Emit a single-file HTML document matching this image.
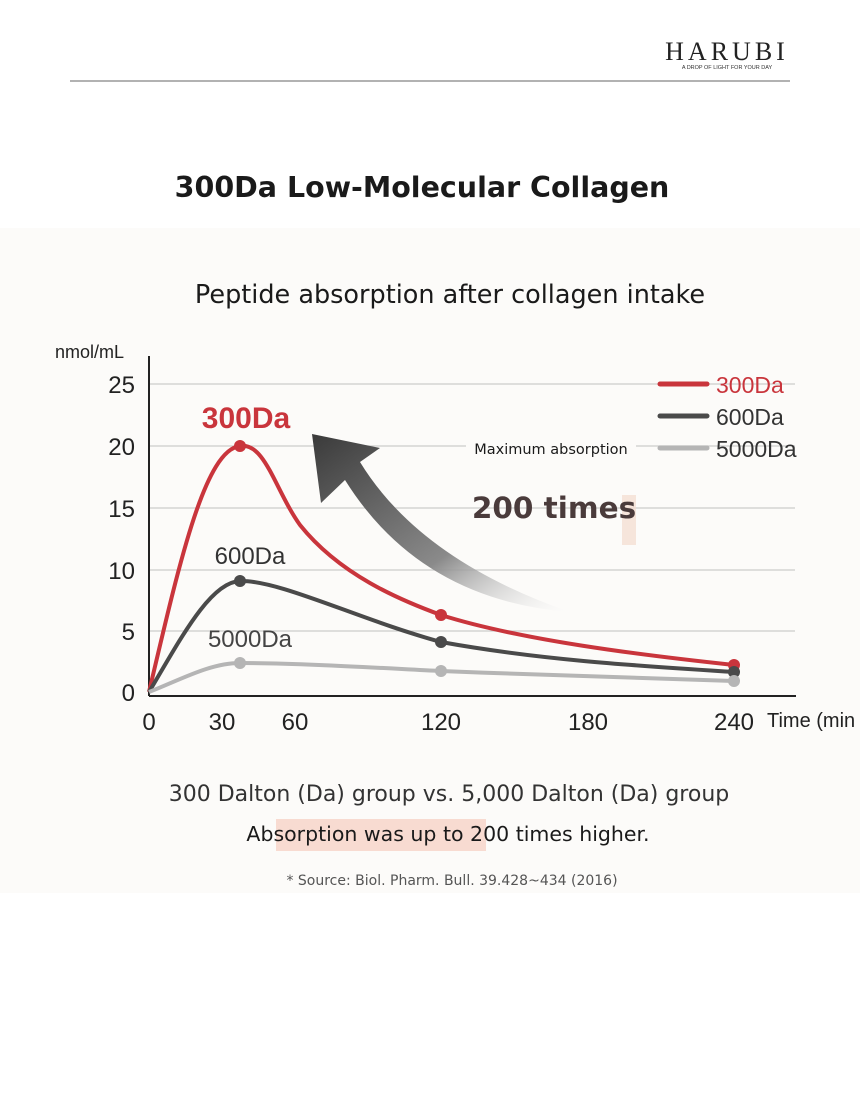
<!DOCTYPE html>
<html><head><meta charset="utf-8"><style>
body{margin:0;width:860px;height:1100px;background:#fff;overflow:hidden;font-family:"DejaVu Sans","Liberation Sans",sans-serif}
</style></head><body>
<svg width="860" height="1100" viewBox="0 0 860 1100" xmlns="http://www.w3.org/2000/svg">
<defs>
<linearGradient id="ag" x1="0" y1="0" x2="1" y2="1">
<stop offset="0" stop-color="#3a3a3a"/><stop offset="0.6" stop-color="#8a8a8a"/><stop offset="1" stop-color="#fff" stop-opacity="0.2"/>
</linearGradient>
</defs>
<rect x="0" y="228" width="860" height="665" fill="#fcfbf9"/>
<text x="727" y="60" font-family="Liberation Serif,serif" font-size="26" letter-spacing="4" text-anchor="middle" fill="#222">HARUBI</text>
<text x="727" y="69" font-family="Liberation Sans,sans-serif" font-size="5.5" text-anchor="middle" fill="#333">A DROP OF LIGHT FOR YOUR DAY</text>
<line x1="70" y1="81" x2="790" y2="81" stroke="#999" stroke-width="1.5"/>
<text x="422" y="197" font-size="28.5" font-weight="bold" text-anchor="middle" fill="#1a1a1a">300Da Low-Molecular Collagen</text>
<text x="450" y="303" font-size="25.5" text-anchor="middle" fill="#1a1a1a">Peptide absorption after collagen intake</text>
<g stroke="#ccc" stroke-width="1.2">
<line x1="149" y1="384" x2="795" y2="384"/><line x1="149" y1="446" x2="795" y2="446"/>
<line x1="149" y1="508" x2="795" y2="508"/><line x1="149" y1="570" x2="795" y2="570"/>
<line x1="149" y1="631" x2="795" y2="631"/>
</g>
<line x1="149" y1="356" x2="149" y2="696" stroke="#222" stroke-width="2"/>
<line x1="149" y1="696" x2="796" y2="696" stroke="#222" stroke-width="2"/>
<g font-family="Liberation Sans,sans-serif" font-size="24" fill="#222" text-anchor="end">
<text x="135" y="393">25</text><text x="135" y="455">20</text><text x="135" y="517">15</text>
<text x="135" y="579">10</text><text x="135" y="640">5</text><text x="135" y="701">0</text>
</g>
<text x="55" y="358" font-family="Liberation Sans,sans-serif" font-size="18" fill="#222">nmol/mL</text>
<g font-family="Liberation Sans,sans-serif" font-size="24" fill="#222" text-anchor="middle">
<text x="149" y="730">0</text><text x="222" y="730">30</text><text x="295" y="730">60</text>
<text x="441" y="730">120</text><text x="588" y="730">180</text><text x="734" y="730">240</text>
</g>
<text x="767" y="727" font-family="Liberation Sans,sans-serif" font-size="20" fill="#222">Time (min</text>
<path d="M321,503 L312,434 L380,448 L360,462 Q420,560 570,612 Q420,600 345,480 Z" fill="url(#ag)"/>
<path d="M149,692 C180,560 205,450 240,446 C265,442 275,490 300,525 C340,575 400,600 441,615 C520,640 640,655 734,665" fill="none" stroke="#c9353c" stroke-width="4"/>
<path d="M149,692 C180,640 210,582 240,581 C280,580 360,620 441,642 C540,660 640,666 734,672" fill="none" stroke="#4a4a4a" stroke-width="4"/>
<path d="M149,692 C180,680 210,663 240,663 C300,663 380,668 441,671 C540,675 640,678 734,681" fill="none" stroke="#b5b5b5" stroke-width="4"/>
<circle cx="240" cy="446" r="6" fill="#c9353c"/><circle cx="441" cy="615" r="6" fill="#c9353c"/><circle cx="734" cy="665" r="6" fill="#c9353c"/>
<circle cx="240" cy="581" r="6" fill="#4a4a4a"/><circle cx="441" cy="642" r="6" fill="#4a4a4a"/><circle cx="734" cy="672" r="6" fill="#4a4a4a"/>
<circle cx="240" cy="663" r="6" fill="#b5b5b5"/><circle cx="441" cy="671" r="6" fill="#b5b5b5"/><circle cx="734" cy="681" r="6" fill="#b5b5b5"/>
<text x="246" y="428" font-family="Liberation Sans,sans-serif" font-size="30" font-weight="bold" fill="#c9353c" text-anchor="middle">300Da</text>
<text x="250" y="564" font-family="Liberation Sans,sans-serif" font-size="24" fill="#333" text-anchor="middle">600Da</text>
<text x="250" y="647" font-family="Liberation Sans,sans-serif" font-size="24" fill="#444" text-anchor="middle">5000Da</text>
<line x1="660" y1="384" x2="707" y2="384" stroke="#c9353c" stroke-width="5" stroke-linecap="round"/>
<line x1="660" y1="416" x2="707" y2="416" stroke="#4a4a4a" stroke-width="5" stroke-linecap="round"/>
<line x1="660" y1="448" x2="707" y2="448" stroke="#b5b5b5" stroke-width="5" stroke-linecap="round"/>
<g font-family="Liberation Sans,sans-serif" font-size="23">
<text x="716" y="393" fill="#c9353c">300Da</text><text x="716" y="425" fill="#333">600Da</text><text x="716" y="457" fill="#333">5000Da</text>
</g>
<rect x="466" y="438" width="170" height="22" fill="#fcfbf9"/>
<text x="551" y="454" font-size="14.5" text-anchor="middle" fill="#1a1a1a">Maximum absorption</text>
<rect x="622" y="495" width="14" height="50" fill="#f3dccf" opacity="0.7"/>
<text x="554" y="518" font-size="29.5" font-weight="bold" text-anchor="middle" fill="#4a3b3b">200 times</text>
<text x="449" y="801" font-size="22" text-anchor="middle" fill="#333">300 Dalton (Da) group vs. 5,000 Dalton (Da) group</text>
<rect x="276" y="819" width="210" height="32" fill="#f6d3c7" opacity="0.8"/>
<text x="448" y="841" font-size="20.5" text-anchor="middle" fill="#1a1a1a">Absorption was up to 200 times higher.</text>
<text x="452" y="885" font-size="14" text-anchor="middle" fill="#555">* Source: Biol. Pharm. Bull. 39.428~434 (2016)</text>
</svg>
</body></html>
